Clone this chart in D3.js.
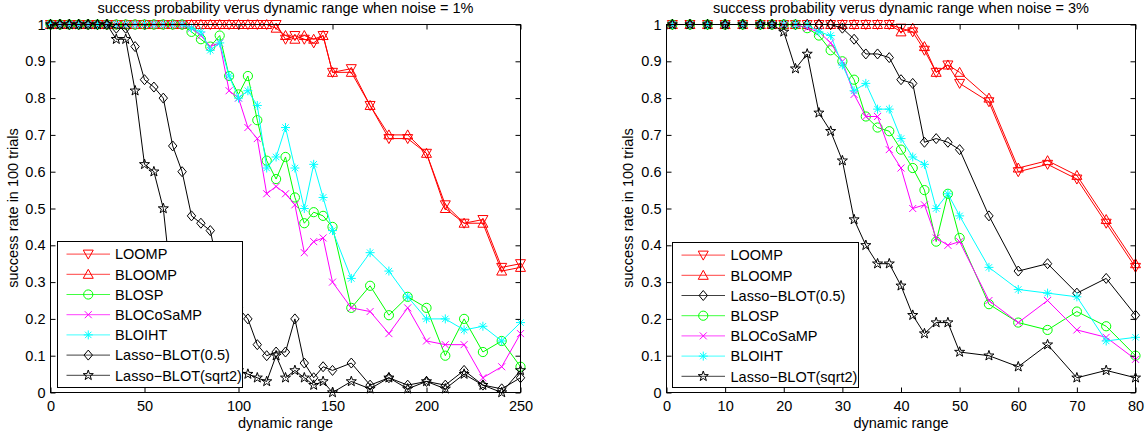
<!DOCTYPE html>
<html>
<head>
<meta charset="utf-8">
<script src="https://cdn.jsdelivr.net/npm/d3@7"></script>
<style>
body{margin:0;background:#fff;}
text{font-family:"Liberation Sans",Arial,Helvetica,sans-serif;fill:#000;}
</style>
</head>
<body>
<svg id="chart" width="1146" height="436"></svg>
<script>
// ---------- left panel data (noise = 1%) ----------
var X_LEFT = [0,5,10,15,20,25,30,35,40,45,50,55,60,65,70,75,80,85,90,95,100,105,110,115,120,125,130,135,140,145,150,
              160,170,180,190,200,210,220,230,240,250];
var L_LOOMP = [1,1,1,1,1,1,1,1,1,1,1,1,1,1,1,1,1,1,1,1,1,1,1,1,
               1.00,0.96,0.97,0.96,0.95,0.97,0.87,0.88,0.78,0.69,0.69,0.65,0.51,0.46,0.47,0.34,0.35];
var L_BLOOMP = [1,1,1,1,1,1,1,1,1,1,1,1,1,1,1,1,1,1,1,1,1,1,1,1,
                0.99,0.97,0.96,0.97,0.96,0.97,0.87,0.87,0.78,0.70,0.70,0.65,0.50,0.46,0.46,0.33,0.34];
var L_BLOSP = [1,1,1,1,1,1,1,1,1,1,1,1,1,1,1,
               0.98,0.96,0.94,0.97,0.86,0.81,0.86,0.74,0.63,0.58,0.64,0.53,0.46,0.49,0.48,0.45,
               0.23,0.29,0.21,0.26,0.23,0.10,0.20,0.11,0.14,0.07];
var L_BLOCOSAMP = [1,1,1,1,1,1,1,1,1,1,1,1,1,1,1,
                   0.99,0.97,0.94,0.95,0.82,0.80,0.72,0.69,0.54,0.56,0.54,0.51,0.38,0.41,0.42,0.30,
                   0.23,0.22,0.16,0.23,0.14,0.13,0.13,0.04,0.07,0.16];
var L_BLOIHT = [1,1,1,1,1,1,1,1,1,1,1,1,1,1,1,
                0.99,0.98,0.93,0.95,0.86,0.80,0.82,0.78,0.61,0.64,0.72,0.61,0.50,0.62,0.53,0.44,
                0.31,0.38,0.33,0.26,0.20,0.20,0.17,0.18,0.14,0.19];
var L_LASSO05 = [1,1,1,1,1,1,1,
                 0.99,0.99,0.94,0.85,0.83,0.80,0.67,0.60,0.48,0.46,0.44,0.32,0.26,0.23,0.20,0.13,0.10,0.11,0.11,0.20,0.08,0.04,0.07,0.06,
                 0.08,0.02,0.04,0.02,0.03,0.02,0.06,0.02,0.01,0.04];
var L_LASSOSQRT2 = [1,1,1,1,1,1,1,
                    0.96,0.96,0.82,0.62,0.60,0.50,0.26,0.17,0.12,0.09,0.08,0.07,0.06,0.06,0.05,0.04,0.03,0.10,0.04,0.06,0.04,0.02,0.03,0.00,
                    0.03,0.01,0.04,0.01,0.03,0.01,0.05,0.02,0.00,0.06];

// ---------- right panel data (noise = 3%) ----------
var X_RIGHT = [1,4,7,10,13,16,18,20,22,24,26,28,30,32,34,36,38,40,42,44,46,48,50,55,60,65,70,75,80];
var R_LOOMP = [1,1,1,1,1,1,1,1,1,1,1,1,1,1,1,1,1,
               0.99,0.98,0.93,0.87,0.89,0.84,0.79,0.60,0.62,0.58,0.46,0.34];
var R_BLOOMP = [1,1,1,1,1,1,1,1,1,1,1,1,1,1,1,1,1,
                0.98,0.99,0.94,0.87,0.89,0.87,0.80,0.61,0.63,0.59,0.47,0.35];
var R_LASSO05 = [1,1,1,1,1,1,1,1,1,1,1,1,
                 0.99,0.96,0.92,0.92,0.91,0.85,0.84,0.68,0.69,0.68,0.66,0.48,0.33,0.35,0.27,0.31,0.21];
var R_BLOSP = [1,1,1,1,1,1,1,1,1,
               0.99,0.97,0.93,0.90,0.85,0.75,0.72,0.71,0.66,0.61,0.55,0.41,0.54,0.42,0.24,0.19,0.17,0.22,0.18,0.10];
var R_BLOCOSAMP = [1,1,1,1,1,1,1,1,1,
                   0.99,0.98,0.95,0.90,0.81,0.75,0.75,0.66,0.61,0.50,0.51,0.42,0.40,0.41,0.25,0.19,0.25,0.17,0.15,0.09];
var R_BLOIHT = [1,1,1,1,1,1,1,1,1,
                1.00,0.98,0.97,0.89,0.82,0.84,0.77,0.77,0.69,0.64,0.62,0.50,0.54,0.48,0.34,0.28,0.27,0.26,0.14,0.15];
var R_LASSOSQRT2 = [1,1,1,1,1,1,1,
                    0.98,0.88,0.92,0.76,0.71,0.63,0.47,0.40,0.35,0.35,0.29,0.21,0.16,0.19,0.19,0.11,0.10,0.07,0.13,0.04,0.06,0.04];

// ---------- ticks and labels ----------
var XTICKS_LEFT = [0,50,100,150,200,250];
var XTICKS_RIGHT = [0,10,20,30,40,50,60,70,80];
var YTICKS = [0,0.1,0.2,0.3,0.4,0.5,0.6,0.7,0.8,0.9,1];
var YTICK_LABELS = ["0","0.1","0.2","0.3","0.4","0.5","0.6","0.7","0.8","0.9","1"];
var TITLE_LEFT = "success probability verus dynamic range when noise = 1%";
var TITLE_RIGHT = "success probability verus dynamic range when noise = 3%";
var XLABEL = "dynamic range";
var YLABEL = "success rate in 100 trials";

var FONT = "'Liberation Sans',Arial,Helvetica,sans-serif";
var FS = 14.5;
var PLOT_TOP = 24.5, PLOT_BOTTOM = 392.5;
var SVG = d3.select("#chart");

// marker shapes like matlab's v ^ o x * d p
function markerPath(type){
    if(type=="v") return "M-5,-4L5,-4L0,5Z";
    if(type=="^") return "M-5,4L5,4L0,-5Z";
    if(type=="o") return "M4.6,0A4.6,4.6 0 1,1 -4.6,0A4.6,4.6 0 1,1 4.6,0Z";
    if(type=="x") return "M-3.5,-3.5L3.5,3.5M-3.5,3.5L3.5,-3.5";
    if(type=="*") return "M0,-4.5L0,4.5M-4.5,0L4.5,0M-3.2,-3.2L3.2,3.2M-3.2,3.2L3.2,-3.2";
    if(type=="d") return "M0,-5L4.2,0L0,5L-4.2,0Z";
    if(type=="p"){
        var pts=[];
        for(var i=0;i<10;i++){
            var r = i%2==0 ? 5.3 : 2.1;
            var a = -Math.PI/2 + i*Math.PI/5;
            pts.push([r*Math.cos(a), r*Math.sin(a)]);
        };
        return "M"+pts.map(function(p){return p[0].toFixed(2)+","+p[1].toFixed(2);}).join("L")+"Z";
    };
    return "";
};

function styleAxis(sel){
    sel.select(".domain").remove();
    sel.selectAll("line").attr("stroke","#000");
    sel.attr("font-size",FS).attr("font-family",FONT);
    sel.selectAll("text").attr("fill","#000");
};

// draw one subplot
function drawPanel(p){
    var x = d3.scaleLinear().domain(p.xDomain).range([p.left, p.right]);
    var y = d3.scaleLinear().domain([0,1]).range([PLOT_BOTTOM, PLOT_TOP]);
    var g = SVG.append("g");

    var line = d3.line().x(function(d){return x(d[0]);}).y(function(d){return y(d[1]);});

    // series
    p.series.forEach(function(s){
        var pts = p.xs.map(function(xv,i){return [xv, s.values[i]];});
        g.append("path").datum(pts)
         .attr("fill","none").attr("stroke",s.color).attr("stroke-width",1)
         .attr("d",line);
        g.selectAll(null).data(pts).enter()
         .append("path")
         .attr("transform",function(d){return "translate("+x(d[0])+","+y(d[1])+")";})
         .attr("d",markerPath(s.marker))
         .attr("fill","none").attr("stroke",s.color).attr("stroke-width",1);
    });

    // axes, ticks pointing inwards on all four sides
    g.append("g").attr("transform","translate(0,"+PLOT_BOTTOM+")")
     .call(d3.axisBottom(x).tickValues(p.xTicks).tickSize(-5).tickPadding(8)).call(styleAxis);
    g.append("g").attr("transform","translate(0,"+PLOT_TOP+")")
     .call(d3.axisTop(x).tickValues(p.xTicks).tickSize(-5).tickFormat(function(){return "";})).call(styleAxis);
    g.append("g").attr("transform","translate("+p.left+",0)")
     .call(d3.axisLeft(y).tickValues(YTICKS).tickSize(-5).tickPadding(5)
     .tickFormat(function(d,i){return YTICK_LABELS[i];})).call(styleAxis);
    g.append("g").attr("transform","translate("+p.right+",0)")
     .call(d3.axisRight(y).tickValues(YTICKS).tickSize(-5).tickFormat(function(){return "";})).call(styleAxis);
    g.append("rect")
     .attr("x",p.left).attr("y",PLOT_TOP)
     .attr("width",p.right-p.left).attr("height",PLOT_BOTTOM-PLOT_TOP)
     .attr("fill","none").attr("stroke","#000").attr("stroke-width",1);

    // title and labels
    var cx = (p.left+p.right)/2;
    g.append("text").attr("x",cx).attr("y",12.5).attr("text-anchor","middle")
     .attr("font-size",FS).text(p.title);
    g.append("text").attr("x",cx).attr("y",428).attr("text-anchor","middle")
     .attr("font-size",FS).text(XLABEL);
    g.append("text").attr("transform","translate("+p.ylabelX+",208) rotate(-90)")
     .attr("text-anchor","middle").attr("dy","0.35em")
     .attr("font-size",FS).text(YLABEL);

    // legend
    var lg = p.legend;
    g.append("rect").attr("x",lg.x0).attr("y",lg.y0)
     .attr("width",lg.x1-lg.x0).attr("height",lg.y1-lg.y0)
     .attr("fill","#fff").attr("stroke","#000").attr("stroke-width",1);
    p.legendOrder.forEach(function(s,i){
        var yy = lg.y0+12.6+i*20.2;
        g.append("line").attr("x1",lg.lineX0).attr("x2",lg.lineX1)
         .attr("y1",yy).attr("y2",yy)
         .attr("stroke",s.color).attr("stroke-opacity",0.75).attr("stroke-width",1);
        g.append("path").attr("transform","translate("+((lg.lineX0+lg.lineX1)/2)+","+yy+")")
         .attr("d",markerPath(s.marker)).attr("fill","none").attr("stroke",s.color).attr("stroke-width",1);
        g.append("text").attr("x",lg.textX).attr("y",yy).attr("dy","0.36em")
         .attr("font-size",FS).text(s.name);
    });
};

var S = {
    loompL:{name:"LOOMP",values:L_LOOMP,color:"#ff0000",marker:"v"},
    bloompL:{name:"BLOOMP",values:L_BLOOMP,color:"#ff0000",marker:"^"},
    blospL:{name:"BLOSP",values:L_BLOSP,color:"#00ff00",marker:"o"},
    blocosampL:{name:"BLOCoSaMP",values:L_BLOCOSAMP,color:"#ff00ff",marker:"x"},
    bloihtL:{name:"BLOIHT",values:L_BLOIHT,color:"#00ffff",marker:"*"},
    lasso05L:{name:"Lasso\u2212BLOT(0.5)",values:L_LASSO05,color:"#000000",marker:"d"},
    lassoS2L:{name:"Lasso\u2212BLOT(sqrt2)",values:L_LASSOSQRT2,color:"#000000",marker:"p"},
    loompR:{name:"LOOMP",values:R_LOOMP,color:"#ff0000",marker:"v"},
    bloompR:{name:"BLOOMP",values:R_BLOOMP,color:"#ff0000",marker:"^"},
    lasso05R:{name:"Lasso\u2212BLOT(0.5)",values:R_LASSO05,color:"#000000",marker:"d"},
    blospR:{name:"BLOSP",values:R_BLOSP,color:"#00ff00",marker:"o"},
    blocosampR:{name:"BLOCoSaMP",values:R_BLOCOSAMP,color:"#ff00ff",marker:"x"},
    bloihtR:{name:"BLOIHT",values:R_BLOIHT,color:"#00ffff",marker:"*"},
    lassoS2R:{name:"Lasso\u2212BLOT(sqrt2)",values:R_LASSOSQRT2,color:"#000000",marker:"p"}
};

var leftSeries = [S.loompL,S.bloompL,S.blospL,S.blocosampL,S.bloihtL,S.lasso05L,S.lassoS2L];
drawPanel({
    xs:X_LEFT, xDomain:[0,250], xTicks:XTICKS_LEFT, left:50.5, right:520.5,
    title:TITLE_LEFT, ylabelX:13,
    series:leftSeries, legendOrder:leftSeries,
    legend:{x0:57.5,y0:241.5,x1:242.5,y1:387.5,lineX0:66.5,lineX1:110,textX:115}
});

var rightSeries = [S.loompR,S.bloompR,S.lasso05R,S.blospR,S.blocosampR,S.bloihtR,S.lassoS2R];
drawPanel({
    xs:X_RIGHT, xDomain:[0,80], xTicks:XTICKS_RIGHT, left:666.5, right:1135.5,
    title:TITLE_RIGHT, ylabelX:628,
    series:rightSeries, legendOrder:rightSeries,
    legend:{x0:672.5,y0:242.5,x1:858.5,y1:387.5,lineX0:681.5,lineX1:725,textX:730.5}
});
</script>
</body>
</html>
